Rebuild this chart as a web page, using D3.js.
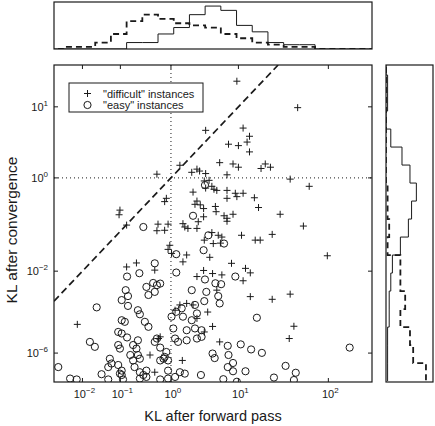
<!DOCTYPE html>
<html><head><meta charset="utf-8">
<script src="https://cdn.jsdelivr.net/npm/d3@7"></script>
<style>
html,body{margin:0;padding:0;background:#fff;}
svg{display:block;font-family:"Liberation Sans",Arial,Helvetica,sans-serif;}
</style></head><body>
<svg id="chart" width="435" height="426"></svg>
<script>
// ---- DATA (stored as log10 of KL) ----
// [log10 KL after forward pass, log10 KL after convergence]
const difficultLog10 = [
[0.98,1.30],[1.69,0.99],[0.55,0.70],[1.06,0.73],[1.14,0.62],[0.87,0.51],[1.00,0.49],[1.11,0.54],[1.14,0.40],[0.15,0.20],
[-0.25,0.06],[0.34,0.09],[0.42,0.14],[0.46,0.11],[0.55,0.07],[0.75,0.24],[0.93,0.22],[1.00,0.17],[1.28,0.15],[1.33,0.22],
[1.39,0.17],[0.85,0.05],[1.61,-0.02],[1.81,-0.14],[0.53,-0.05],[0.60,-0.04],[0.64,-0.14],[0.55,-0.17],[0.67,-0.19],[0.71,-0.21],
[0.85,-0.21],[0.85,-0.35],[0.96,-0.26],[0.98,-0.32],[1.06,-0.26],[0.36,-0.24],[1.20,-0.34],[1.25,-0.52],[-0.08,-0.35],[-0.11,-0.41],
[0.42,-0.40],[0.47,-0.47],[0.39,-0.46],[0.52,-0.54],[0.70,-0.60],[0.69,-0.50],[-1.01,-0.57],[-1.03,-0.66],[0.52,-0.70],[1.50,-0.65],
[0.93,-0.65],[0.85,-0.73],[0.81,-0.68],[1.75,-0.89],[-0.86,-0.87],[-0.23,-0.85],[-0.25,-0.99],[-0.11,-0.98],[-0.05,-0.85],[0.20,-0.84],
[0.23,-0.91],[0.28,-0.94],[0.42,-0.94],[0.64,-1.03],[0.73,-1.09],[0.78,-1.13],[1.41,-1.07],[0.85,-0.79],[0.44,-0.80],[1.04,-1.09],
[1.21,-1.20],[1.27,-1.20],[0.66,-1.28],[0.76,-1.27],[0.53,-1.20],[-0.02,-1.32],[-0.05,-1.42],[0.01,-1.52],[0.26,-1.56],[1.99,-1.58],
[0.61,-1.62],[0.91,-1.78],[-0.86,-1.88],[-0.65,-1.77],[-0.29,-1.97],[0.20,-1.74],[0.52,-1.98],[0.65,-2.07],[0.78,-2.11],[0.42,-2.16],
[1.09,-1.92],[1.15,-2.05],[1.06,-2.29],[0.71,-2.60],[1.15,-2.83],[1.41,-2.93],[1.61,-2.74],[-2.16,-4.04],[0.07,-3.37],[0.15,-3.15],
[0.26,-3.09],[0.36,-3.15],[0.58,-3.45],[0.42,-3.74],[0.65,-4.15],[0.53,-4.46],[1.65,-4.14],[-0.19,-4.76],[-0.22,-4.87],[0.75,-5.10],
[1.60,-4.87],[-0.38,-6.18],[0.19,-6.75],[-0.29,-8.44]
];
const easyLog10 = [
[-0.51,-0.91],[0.36,-0.68],[0.54,-0.12],[0.09,-1.54],[0.52,-1.44],[0.59,-1.09],[0.81,-1.28],[-0.29,-1.78],[0.09,-2.04],[-0.59,-2.06],
[-0.85,-2.16],[-0.32,-2.36],[-0.25,-2.43],[-0.29,-2.66],[-0.19,-2.38],[-0.88,-2.60],[-0.45,-2.49],[-0.41,-2.77],[0.54,-2.25],[0.69,-2.37],
[0.77,-2.40],[0.96,-2.16],[0.34,-2.60],[0.56,-2.66],[0.73,-2.81],[0.75,-3.09],[-0.83,-2.81],[-0.97,-2.96],[-1.59,-3.25],[-0.83,-3.19],
[-0.62,-3.37],[-0.58,-3.55],[-0.97,-3.83],[-0.90,-3.91],[-0.48,-3.91],[-0.41,-4.17],[-1.05,-4.46],[-0.97,-4.55],[-0.85,-4.80],[0.01,-3.66],
[0.09,-3.44],[0.18,-3.29],[0.20,-3.66],[0.39,-3.15],[0.53,-3.00],[0.42,-3.51],[0.34,-3.83],[0.39,-4.26],[0.26,-4.36],[0.42,-4.87],
[0.26,-4.99],[0.04,-4.26],[0.07,-4.87],[-0.25,-4.87],[-0.29,-5.10],[-0.19,-5.53],[-0.08,-5.90],[-0.11,-6.37],[-0.05,-6.75],[0.12,-5.10],
[-1.78,-5.10],[-1.64,-5.47],[-1.05,-5.33],[-1.01,-5.61],[-0.72,-5.33],[-0.65,-5.61],[-0.62,-4.99],[-0.78,-6.18],[-0.62,-6.18],[-0.58,-6.56],
[-1.25,-6.56],[-1.21,-7.12],[-1.29,-7.60],[-1.05,-7.31],[-0.97,-8.16],[-1.01,-8.71],[-0.72,-6.75],[-0.69,-7.60],[-0.58,-8.44],[-0.45,-8.16],
[-0.45,-9.45],[-0.19,-6.75],[-0.13,-6.56],[-0.05,-8.16],[0.07,-9.45],[-0.05,-9.87],[0.15,-8.44],[0.23,-8.71],[0.48,-9.00],[-2.83,-7.60],
[-2.40,-9.87],[-2.18,-10.13],[-1.46,-8.83],[-1.29,-10.13],[-0.97,-9.00],[-0.94,-10.13],[-0.58,-9.87],[-0.51,-9.00],[-0.19,-10.13],[1.23,-3.71],
[0.49,-4.36],[0.49,-4.76],[0.86,-5.39],[1.03,-5.28],[1.16,-5.68],[1.29,-5.98],[0.65,-6.04],[0.68,-6.49],[0.87,-6.18],[0.93,-7.05],
[0.86,-7.60],[0.93,-8.27],[1.09,-8.27],[0.80,-10.05],[0.98,-10.90],[1.43,-9.60],[1.56,-7.43],[1.67,-8.54],[1.65,-10.31],[2.20,-5.53]
];
// histogram counts (bins equal-width on the transformed axis)
const topHistDifficult = [0,0,0,0,0,3,3,7,10,16,20,18,11,8,3,2,2,0,0,0,0];
const topHistEasy      = [0,1,1,3,7,13,16,14,12,11,10,7,5,3,2,1,1,0,0,0,0];
const rightHistDifficult = [0,1,1,0,3,10,15,19,16,14,9,4,3,2,2,1,1,1];
const rightHistEasy      = [0,0,0,0,0,0,0,1,1,2,1,9,9,12,9,15,17,25];
const xTickValues = [1e-2, 1e-1, 1, 10, 100];
const xTickExp = ["\u22122", "\u22121", "0", "1", "2"];
const yTickValues = [10, 1, 1e-2, 1e-6];
const yTickExp = ["1", "0", "\u22122", "\u22126"];
const legendLabels = ['"difficult" instances', '"easy" instances'];
const xTitle = "KL after forward pass";
const yTitle = "KL after convergence";
const diagonalKL = [1e-3, 30];   // y = x reference line

// ---- LAYOUT ----
const P = 0.125;
const L = 54, R = 372, T = 65, B = 382;
const x = d3.scalePow().exponent(P).domain([1e-3, 250]).range([L, R]);
const y = d3.scalePow().exponent(P).domain([1e-11, 30]).range([B, T]);
const ink = "#1a1a1a";

const svg = d3.select("#chart");
const defs = svg.append("defs");
defs.append("clipPath").attr("id","cMain").append("rect").attr("x",L).attr("y",T).attr("width",R-L).attr("height",B-T);
const TH = {t:2, b:49};
defs.append("clipPath").attr("id","cTop").append("rect").attr("x",L).attr("y",TH.t).attr("width",R-L).attr("height",TH.b-TH.t);
const RH = {l:386, r:433};
defs.append("clipPath").attr("id","cRight").append("rect").attr("x",RH.l).attr("y",T).attr("width",RH.r-RH.l).attr("height",B-T);

// ---- main panel ----
const mainG = svg.append("g");
mainG.append("line").attr("x1",x(1)).attr("x2",x(1)).attr("y1",T).attr("y2",B)
  .attr("stroke",ink).attr("stroke-width",1).attr("stroke-dasharray","1,3");
mainG.append("line").attr("x1",L).attr("x2",R).attr("y1",y(1)).attr("y2",y(1))
  .attr("stroke",ink).attr("stroke-width",1).attr("stroke-dasharray","1,3");
mainG.append("line").attr("clip-path","url(#cMain)")
  .attr("x1",x(diagonalKL[0])).attr("y1",y(diagonalKL[0]))
  .attr("x2",x(diagonalKL[1])).attr("y2",y(diagonalKL[1]))
  .attr("stroke",ink).attr("stroke-width",1.7).attr("stroke-dasharray","7,4");

const pts = mainG.append("g").attr("clip-path","url(#cMain)");
pts.selectAll("circle.easy").data(easyLog10).join("circle").attr("class","easy")
  .attr("cx",d=>x(Math.pow(10,d[0]))).attr("cy",d=>y(Math.pow(10,d[1]))).attr("r",3.6)
  .attr("fill","none").attr("stroke",ink).attr("stroke-width",1);
pts.selectAll("path.diff").data(difficultLog10).join("path").attr("class","diff")
  .attr("transform",d=>`translate(${x(Math.pow(10,d[0]))},${y(Math.pow(10,d[1]))})`)
  .attr("d","M-3.5,0H3.5M0,-3.5V3.5").attr("stroke",ink).attr("stroke-width",1).attr("fill","none");

mainG.append("rect").attr("x",L).attr("y",T).attr("width",R-L).attr("height",B-T)
  .attr("fill","none").attr("stroke",ink).attr("stroke-width",1.2);
const tk = 4;
xTickValues.forEach(v=>{
  mainG.append("line").attr("x1",x(v)).attr("x2",x(v)).attr("y1",B).attr("y2",B-tk).attr("stroke",ink);
  mainG.append("line").attr("x1",x(v)).attr("x2",x(v)).attr("y1",T).attr("y2",T+tk).attr("stroke",ink);
});
yTickValues.forEach(v=>{
  mainG.append("line").attr("x1",L).attr("x2",L+tk).attr("y1",y(v)).attr("y2",y(v)).attr("stroke",ink);
  mainG.append("line").attr("x1",R).attr("x2",R-tk).attr("y1",y(v)).attr("y2",y(v)).attr("stroke",ink);
});
xTickValues.forEach((v,i)=>{
  const t = svg.append("text").attr("x",x(v)+2).attr("y",398).attr("text-anchor","middle")
    .attr("font-size",11).attr("fill",ink);
  t.append("tspan").text("10");
  t.append("tspan").attr("dy",-5).attr("font-size",8).text(xTickExp[i]);
});
yTickValues.forEach((v,i)=>{
  const t = svg.append("text").attr("x",48).attr("y",y(v)+4).attr("text-anchor","end")
    .attr("font-size",11).attr("fill",ink);
  t.append("tspan").text("10");
  t.append("tspan").attr("dy",-5).attr("font-size",8).text(yTickExp[i]);
});
svg.append("text").attr("x",213).attr("y",421).attr("text-anchor","middle")
  .attr("font-size",14.5).attr("fill",ink).text(xTitle);
svg.append("text").attr("transform","translate(17,230) rotate(-90)").attr("text-anchor","middle")
  .attr("font-size",15.5).attr("fill",ink).text(yTitle);

const lg = svg.append("g");
lg.append("rect").attr("x",69).attr("y",83).attr("width",134).attr("height",29)
  .attr("fill","#fff").attr("stroke",ink).attr("stroke-width",1);
lg.append("path").attr("d","M84,93.5H91M87.5,90V97").attr("stroke",ink).attr("fill","none");
lg.append("circle").attr("cx",87.5).attr("cy",105).attr("r",3.6).attr("fill","none").attr("stroke",ink);
legendLabels.forEach((s,i)=>{
  lg.append("text").attr("x",103).attr("y",97.5+i*11.5).attr("font-size",11).attr("fill",ink).text(s);
});

// ---- top histogram ----
const hy = d3.scaleLinear().domain([0, 21.9]).range([TH.b, TH.t]);
const topU0 = 0.3925, topDu = 0.07765;
const topEdges = d3.range(topHistDifficult.length+1).map(k=>Math.pow(topU0 + k*topDu, 1/P));
function stepTop(counts){
  const p = [];
  counts.forEach((c,k)=>{ p.push([x(topEdges[k]), hy(c)]); p.push([x(topEdges[k+1]), hy(c)]); });
  return d3.line()(p);
}
const topG = svg.append("g");
topG.append("path").attr("clip-path","url(#cTop)").attr("d",stepTop(topHistDifficult))
  .attr("fill","none").attr("stroke",ink).attr("stroke-width",1);
topG.append("path").attr("clip-path","url(#cTop)").attr("d",stepTop(topHistEasy))
  .attr("fill","none").attr("stroke",ink).attr("stroke-width",1.8).attr("stroke-dasharray","6,4");
topG.append("rect").attr("x",L).attr("y",TH.t).attr("width",R-L).attr("height",TH.b-TH.t)
  .attr("fill","none").attr("stroke",ink).attr("stroke-width",1.2);

// ---- right histogram ----
const rx = d3.scaleLinear().domain([0, 29.4]).range([RH.l, RH.r]);
const rU0 = 1.5671, rDu = 0.08447;
const rightEdges = d3.range(rightHistDifficult.length+1).map(k=>Math.pow(Math.max(rU0 - k*rDu, 0.001), 1/P));
function stepRight(counts){
  const p = [];
  counts.forEach((c,k)=>{ p.push([rx(c), y(rightEdges[k])]); p.push([rx(c), y(rightEdges[k+1])]); });
  return d3.line()(p);
}
const rightG = svg.append("g");
rightG.append("path").attr("clip-path","url(#cRight)").attr("d",stepRight(rightHistDifficult))
  .attr("fill","none").attr("stroke",ink).attr("stroke-width",1);
rightG.append("path").attr("clip-path","url(#cRight)").attr("d",stepRight(rightHistEasy))
  .attr("fill","none").attr("stroke",ink).attr("stroke-width",1.8).attr("stroke-dasharray","6,4");
rightG.append("rect").attr("x",RH.l).attr("y",T).attr("width",RH.r-RH.l).attr("height",B-T)
  .attr("fill","none").attr("stroke",ink).attr("stroke-width",1.2);
</script>
</body></html>
